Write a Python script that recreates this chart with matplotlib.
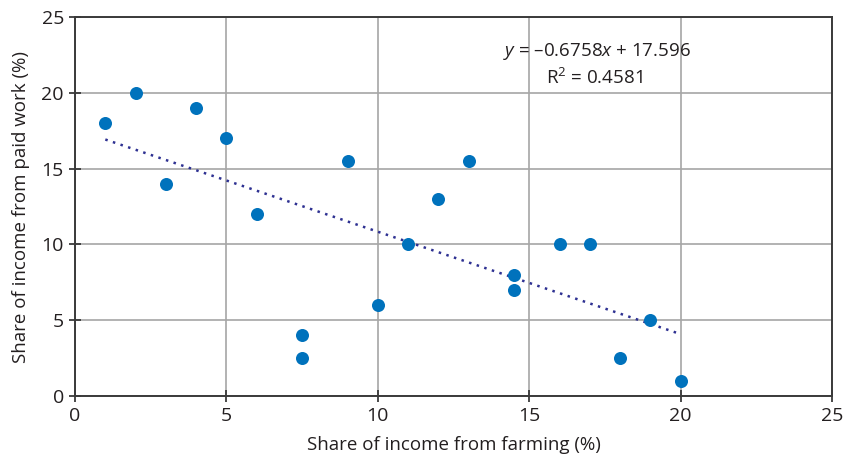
import numpy as np
import matplotlib
matplotlib.use('Agg')
import matplotlib.pyplot as plt

# Data
farming = [1, 2, 3, 4, 5, 6, 7.5, 7.5, 9, 10, 11, 12, 13, 14.5, 14.5, 16, 17, 18, 19, 20]
paid_work = [18, 20, 14, 19, 17, 12, 4, 2.5, 15.5, 6, 10, 13, 15.5, 8, 7, 10, 10, 2.5, 5, 1]
slope = -0.6758
intercept = 17.596
r2 = 0.4581

plt.rcParams['font.family'] = ['Open Sans', 'DejaVu Sans']
plt.rcParams['mathtext.fontset'] = 'custom'
plt.rcParams['mathtext.rm'] = 'Open Sans'
plt.rcParams['mathtext.it'] = 'Open Sans:italic'

fig = plt.figure(figsize=(8.44, 4.65), dpi=100)
ax = fig.add_axes([0.0889, 0.1484, 0.8969, 0.815])

ax.grid(True, color='#a6a6a6', linewidth=1.2, zorder=0)
ax.scatter(farming, paid_work, s=88, color='#0072bc', zorder=3, linewidths=0)

# trend line over the data range
xs = np.array([min(farming), max(farming)])
ax.plot(xs, slope * xs + intercept, color='#2e3192', linestyle=(0, (1, 2.2)),
        linewidth=1.8, zorder=2)

ax.set_xlim(0, 25)
ax.set_ylim(0, 25)
ax.set_xticks(range(0, 26, 5))
ax.set_yticks(range(0, 26, 5))
for s in ax.spines.values():
    s.set_color('#3a3a3a')
    s.set_linewidth(1.4)
ax.tick_params(direction='inout', length=8, width=1.3, color='#3a3a3a',
               labelsize=14, labelcolor='#231f20', pad=4)

ax.set_xlabel('Share of income from farming (%)', fontsize=13.5, color='#231f20', labelpad=8)
ax.set_ylabel('Share of income from paid work (%)', fontsize=13.5, color='#231f20', labelpad=8)

ax.text(17.25, 22.7, r'$y$ = –0.6758$x$ + 17.596', fontsize=13.5, color='#231f20',
        ha='center', va='center', zorder=4)
ax.text(17.15, 21.0, r'R$^2$ = %.4f' % r2, fontsize=13.5, color='#231f20',
        ha='center', va='center', zorder=4)

fig.savefig('out.png', dpi=100)
